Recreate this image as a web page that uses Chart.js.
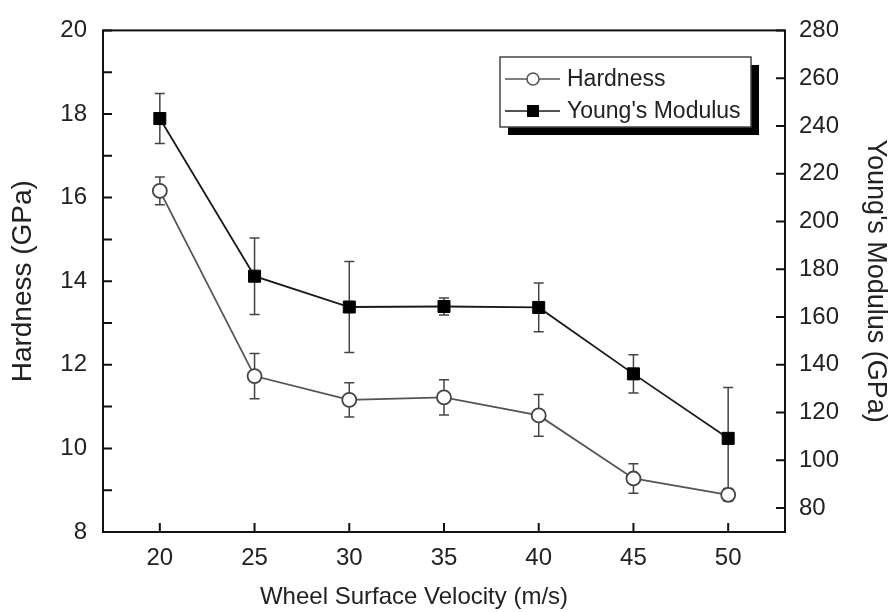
<!DOCTYPE html>
<html>
<head>
<meta charset="utf-8">
<script src="https://cdn.jsdelivr.net/npm/chart.js@4/dist/chart.umd.min.js"></script>
<style>
  html, body { margin: 0; padding: 0; background: #fff; }
  canvas { display: block; }
</style>
</head>
<body>
<canvas id="chart" width="892" height="612"></canvas>
<script>
// data
const velocities = [20, 25, 30, 35, 40, 45, 50];
const hardness = [16.16, 11.73, 11.16, 11.22, 10.79, 9.28, 8.89];
const hardnessErr = [0.33, 0.54, 0.41, 0.42, 0.5, 0.35, 0.15];
const modulus = [243.1, 177.1, 164.2, 164.4, 164.0, 136.2, 109.2];
const modulusErr = [10.5, 16, 19, 3.6, 10.2, 8, 21.3];

const velocityTicks = [20, 25, 30, 35, 40, 45, 50];
const hardnessTicks = [8, 9, 10, 11, 12, 13, 14, 15, 16, 17, 18, 19, 20];
const modulusTicks = [80, 100, 120, 140, 160, 180, 200, 220, 240, 260, 280];
const xTitle = "Wheel Surface Velocity (m/s)";

const FONT = "Arial, 'Liberation Sans', sans-serif";
const TEXT = "#222";

const errorBars = {
  id: "errorBars",
  beforeDatasetsDraw(chart) {
    const ctx = chart.ctx;
    const xs = chart.scales.x;
    chart.data.datasets.forEach(ds => {
      const ys = chart.scales[ds.yAxisID];
      ctx.save();
      ctx.strokeStyle = ds.errColor;
      ctx.lineWidth = 1.5;
      ds.data.forEach((p, j) => {
        const x = xs.getPixelForValue(p.x);
        const yt = ys.getPixelForValue(p.y + ds.errors[j]);
        const yb = ys.getPixelForValue(p.y - ds.errors[j]);
        ctx.beginPath();
        ctx.moveTo(x, yt); ctx.lineTo(x, yb);
        ctx.moveTo(x - 5, yt); ctx.lineTo(x + 5, yt);
        ctx.moveTo(x - 5, yb); ctx.lineTo(x + 5, yb);
        ctx.stroke();
      });
      ctx.restore();
    });
  }
};

const frame = {
  id: "frame",
  afterDraw(chart) {
    const ctx = chart.ctx;
    const a = chart.chartArea;
    ctx.save();
    ctx.strokeStyle = "#111";
    ctx.lineWidth = 2;
    ctx.strokeRect(a.left, a.top, a.right - a.left, a.bottom - a.top);
    ctx.beginPath();
    chart.scales.x.ticks.forEach(t => {
      const x = chart.scales.x.getPixelForValue(t.value);
      ctx.moveTo(x, a.bottom); ctx.lineTo(x, a.bottom - 9);
    });
    chart.scales.y.ticks.forEach(t => {
      const y = chart.scales.y.getPixelForValue(t.value);
      ctx.moveTo(a.left, y); ctx.lineTo(a.left + 9, y);
    });
    chart.scales.y2.ticks.forEach(t => {
      const y = chart.scales.y2.getPixelForValue(t.value);
      ctx.moveTo(a.right, y); ctx.lineTo(a.right - 9, y);
    });
    ctx.stroke();

    // x axis title, sits a little left of the plot centre in the figure
    ctx.fillStyle = TEXT;
    ctx.font = "24px " + FONT;
    ctx.textAlign = "center";
    ctx.textBaseline = "middle";
    ctx.fillText(xTitle, 414, 597);

    // legend box with drop shadow
    const lx = 500, ly = 57, lw = 251, lh = 70;
    ctx.fillStyle = "#000";
    ctx.fillRect(lx + 8, ly + 8, lw, lh);
    ctx.fillStyle = "#fff";
    ctx.fillRect(lx, ly, lw, lh);
    ctx.strokeStyle = "#444";
    ctx.lineWidth = 1.5;
    ctx.strokeRect(lx, ly, lw, lh);
    ctx.font = "23px " + FONT;
    ctx.textAlign = "left";
    chart.data.datasets.forEach((ds, i) => {
      const y = 79 + i * 32;
      ctx.strokeStyle = ds.borderColor;
      ctx.lineWidth = 1.6;
      ctx.beginPath();
      ctx.moveTo(505, y); ctx.lineTo(560, y);
      ctx.stroke();
      if (ds.pointStyle === "circle") {
        ctx.beginPath();
        ctx.arc(533, y, 6, 0, Math.PI * 2);
        ctx.fillStyle = "#fff";
        ctx.fill();
        ctx.stroke();
      } else {
        ctx.fillStyle = "#000";
        ctx.fillRect(527, y - 6, 12, 12);
      }
      ctx.fillStyle = TEXT;
      ctx.fillText(ds.label, 567, y + 1);
    });
    ctx.restore();
  }
};

new Chart(document.getElementById("chart"), {
  type: "line",
  data: {
    datasets: [
      {
        label: "Hardness",
        data: velocities.map((v, i) => ({ x: v, y: hardness[i] })),
        errors: hardnessErr,
        errColor: "#444",
        yAxisID: "y",
        borderColor: "#555",
        borderWidth: 1.8,
        pointStyle: "circle",
        pointRadius: 7,
        pointBorderWidth: 1.8,
        pointBackgroundColor: "#fff",
        pointBorderColor: "#444"
      },
      {
        label: "Young's Modulus",
        data: velocities.map((v, i) => ({ x: v, y: modulus[i] })),
        errors: modulusErr,
        errColor: "#444",
        yAxisID: "y2",
        borderColor: "#1a1a1a",
        borderWidth: 1.8,
        pointStyle: "rect",
        pointRadius: 8.5,
        pointBorderWidth: 1,
        pointBackgroundColor: "#000",
        pointBorderColor: "#000"
      }
    ]
  },
  options: {
    responsive: false,
    animation: false,
    layout: { padding: { top: 24, left: 0, right: 0, bottom: 0 } },
    plugins: { legend: { display: false }, tooltip: { enabled: false } },
    scales: {
      x: {
        type: "linear",
        min: 17,
        max: 53,
        afterBuildTicks: s => { s.ticks = velocityTicks.map(v => ({ value: v })); },
        afterFit: s => { s.height = 80; },
        grid: { display: false, drawTicks: false },
        border: { display: false },
        ticks: { color: TEXT, font: { family: FONT, size: 24 }, padding: 12, autoSkip: false, maxRotation: 0 }
      },
      y: {
        position: "left",
        min: 8,
        max: 20,
        afterBuildTicks: s => { s.ticks = hardnessTicks.map(v => ({ value: v })); },
        afterFit: s => { s.width = 103; },
        grid: { display: false, drawTicks: false },
        border: { display: false },
        ticks: { color: TEXT, font: { family: FONT, size: 24 }, padding: 16, autoSkip: false,
                 callback: v => (v % 2 === 0 ? v : "") },
        title: { display: true, text: "Hardness (GPa)", color: TEXT,
                 font: { family: FONT, size: 28 }, padding: { top: 6, bottom: 0 } }
      },
      y2: {
        position: "right",
        min: 70,
        max: 280,
        afterBuildTicks: s => { s.ticks = modulusTicks.map(v => ({ value: v })); },
        afterFit: s => { s.width = 107; },
        grid: { display: false, drawTicks: false },
        border: { display: false },
        ticks: { color: TEXT, font: { family: FONT, size: 24 }, padding: 14, autoSkip: false },
        title: { display: true, text: "Young's Modulus (GPa)", color: TEXT,
                 font: { family: FONT, size: 27 }, padding: { top: 0, bottom: 0 } }
      }
    }
  },
  plugins: [errorBars, frame]
});
</script>
</body>
</html>
